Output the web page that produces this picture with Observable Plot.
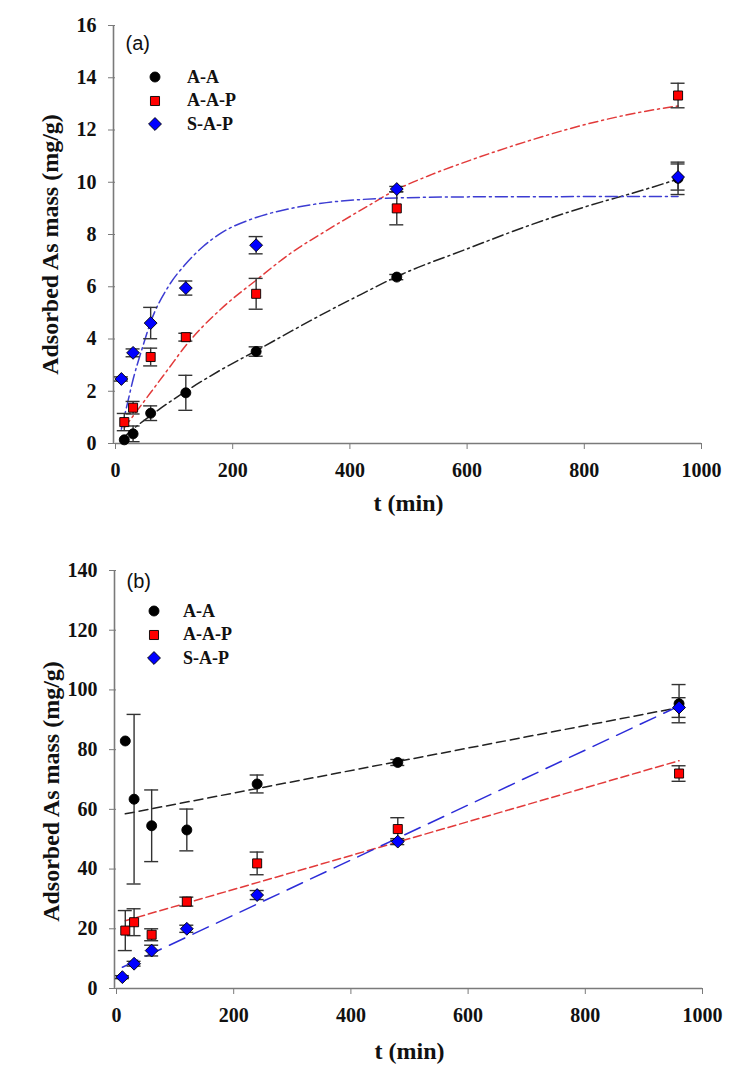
<!DOCTYPE html>
<html><head><meta charset="utf-8">
<script src="https://cdn.jsdelivr.net/npm/d3@7"></script>
<script src="https://cdn.jsdelivr.net/npm/@observablehq/plot@0.6"></script>
<style>
body{margin:0;background:#fff;}
#wrap{position:relative;width:754px;height:1079px;overflow:hidden;}
#wrap svg{display:block;}
.legend{position:absolute;font-family:"Liberation Serif","Times New Roman",serif;font-weight:bold;font-size:18px;color:#111;}
.legend .row{position:absolute;left:0;height:24px;display:flex;align-items:center;white-space:nowrap;}
</style></head><body><div id="wrap"></div>
<script>
// ---------- data ----------
const seriesNames = ["A-A", "A-A-P", "S-A-P"];
const seriesColors = ["#000000", "#ff0000", "#0000ff"];
const xTicks = [0, 200, 400, 600, 800, 1000];
const yTicksA = [0, 2, 4, 6, 8, 10, 12, 14, 16];
const yTicksB = [0, 20, 40, 60, 80, 100, 120, 140];

const tAA = [15, 30, 60, 120, 240, 480, 960];
const tAAP = [15, 30, 60, 120, 240, 480, 960];
const tSAP = [10, 30, 60, 120, 240, 480, 960];

// panel (a) measured values and error bars
const qA_AA = [0.14, 0.37, 1.16, 1.94, 3.52, 6.37, 10.15];
const eA_AA = [0.0, 0.3, 0.28, 0.67, 0.18, 0.1, 0.62];
const qA_AAP = [0.82, 1.37, 3.31, 4.07, 5.73, 9.0, 13.32];
const eA_AAP = [0.33, 0.24, 0.34, 0.15, 0.59, 0.63, 0.47];
const qA_SAP = [2.47, 3.47, 4.61, 5.95, 7.59, 9.74, 10.2];
const eA_SAP = [0.08, 0.15, 0.6, 0.27, 0.33, 0.1, 0.5];

// panel (a) fitted curves
const fitTA_AA = [15, 30, 60, 120, 180, 240, 300, 360, 420, 480, 600, 700, 800, 900, 960];
const fitQA_AA = [0.25, 0.55, 1.07, 2.0, 2.82, 3.55, 4.3, 5.03, 5.72, 6.39, 7.45, 8.3, 9.05, 9.7, 10.12];
const fitTA_AAP = [15, 30, 60, 90, 120, 180, 240, 300, 360, 420, 480, 540, 600, 700, 800, 900, 960];
const fitQA_AAP = [0.6, 1.05, 1.95, 2.85, 3.75, 5.15, 6.25, 7.3, 8.15, 8.95, 9.72, 10.3, 10.8, 11.55, 12.2, 12.7, 12.92];
const fitTA_SAP = [10, 20, 30, 45, 60, 90, 120, 150, 180, 240, 300, 360, 420, 480, 600, 800, 960];
const fitQA_SAP = [0.55, 1.5, 2.45, 3.6, 4.65, 6.0, 6.88, 7.55, 8.05, 8.65, 9.0, 9.22, 9.34, 9.4, 9.44, 9.45, 9.45];

// panel (b) measured values and error bars
const qB_AA = [82.9, 63.4, 54.5, 53.1, 68.5, 75.7, 95.4];
const eB_AA = [0, 28.4, 12, 7, 3, 1, 6.4];
const qB_AAP = [19.4, 22.2, 18.0, 29.1, 41.9, 53.4, 72.0];
const eB_AAP = [6.7, 4.5, 2, 1.5, 3.8, 3.8, 2.6];
const qB_SAP = [3.8, 8.3, 12.7, 20.0, 31.3, 49.2, 94.1];
const eB_SAP = [0.5, 0.8, 1.8, 1.2, 1.5, 1, 3.3];

// panel (b) linear fits (end points)
const fitTB_AA = [15, 960];
const fitQB_AA = [58.5, 94.1];
const fitTB_AAP = [15, 960];
const fitQB_AAP = [22.7, 76.3];
const fitTB_SAP = [10, 960];
const fitQB_SAP = [7.1, 94.6];

// ---------- helpers ----------
const SERIF = "'Liberation Serif', 'Times New Roman', serif";
const SANS = "'Liberation Sans', Arial, sans-serif";
const AXIS = "#7a7a7a";
const ERR = "#333";
function rows(series, t, q, e) {
  return t.map((ti, i) => ({series, t: ti, q: q[i], lo: q[i] - e[i], hi: q[i] + e[i], e: e[i]}));
}
function fit(t, q) { return t.map((ti, i) => ({t: ti, q: q[i]})); }

const symSpec = [
  {name: seriesNames[0], symbol: "circle", r: 5, fill: seriesColors[0]},
  {name: seriesNames[1], symbol: "square", r: 5.1, fill: seriesColors[1]},
  {name: seriesNames[2], symbol: "diamond2", r: 5.8, fill: seriesColors[2]}
];

function panel(opts) {
  const pts = [
    rows(seriesNames[0], tAA, opts.q[0], opts.e[0]),
    rows(seriesNames[1], tAAP, opts.q[1], opts.e[1]),
    rows(seriesNames[2], tSAP, opts.q[2], opts.e[2])
  ];
  const all = pts.flat().filter(d => d.e > 0);
  const fitMarks = opts.fits.map((f, i) => Plot.line(f, {
    x: "t", y: "q", stroke: opts.fitColors[i], strokeWidth: 1.5,
    strokeDasharray: opts.dash[i], curve: opts.curve
  }));
  const dotMarks = pts.map((p, i) => Plot.dot(p, {
    x: "t", y: "q", symbol: () => symSpec[i].symbol, r: symSpec[i].r,
    fill: symSpec[i].fill, stroke: "#000", strokeWidth: 0.9
  }));
  return Plot.plot({
    width: 754, height: opts.height,
    marginLeft: opts.ml, marginRight: opts.mr, marginTop: opts.mt, marginBottom: opts.mb,
    x: {domain: [0, 1000]},
    y: {domain: opts.ydom},
    symbol: {type: "identity"},
    style: "font-family: 'Liberation Serif', 'Times New Roman', serif; font-size: 20px; font-weight: bold; background: white; color: #111; overflow: visible;",
    marks: [
      Plot.ruleY([0], {stroke: AXIS, strokeWidth: 1.6}),
      Plot.ruleX([0], {stroke: AXIS, strokeWidth: 1.6, dx: -2}),
      Plot.axisX({ticks: xTicks, tickFormat: d => String(d), tickSize: 6, tickPadding: 13, stroke: AXIS, label: null, fontSize: 20}),
      Plot.axisY({ticks: opts.yticks, tickFormat: d => String(d), tickSize: 7, tickPadding: 12, stroke: AXIS, label: null, fontSize: 20}),
      ...fitMarks,
      Plot.ruleX(all, {x: "t", y1: "lo", y2: "hi", stroke: ERR, strokeWidth: 1.4}),
      Plot.ruleY(all, {y: "hi", x1: "t", x2: "t", insetLeft: -7, insetRight: -7, stroke: ERR, strokeWidth: 1.4}),
      Plot.ruleY(all, {y: "lo", x1: "t", x2: "t", insetLeft: -7, insetRight: -7, stroke: ERR, strokeWidth: 1.4}),
      ...dotMarks,
      Plot.text([opts.tag], {text: d => d, frameAnchor: "top-left", dx: 10, dy: opts.tagDy, lineAnchor: "top", textAnchor: "start",
        fontSize: 20, fill: "#111", className: "tag"}),
      Plot.text(["Adsorbed As mass (mg/g)"], {text: d => d, frameAnchor: "left", textAnchor: "middle", dx: -65, dy: opts.ylabDy, rotate: -90,
        fontSize: 24, fill: "#111"}),
      Plot.text(["t (min)"], {text: d => d, frameAnchor: "bottom", textAnchor: "middle", dy: opts.xlabDy,
        fontSize: 24, fill: "#111"})
    ]
  });
}

const wrap = document.getElementById("wrap");

const plotA = panel({
  height: 520, ml: 115, mr: 53, mt: 25, mb: 77, ydom: [0, 16], yticks: yTicksA,
  q: [qA_AA, qA_AAP, qA_SAP], e: [eA_AA, eA_AAP, eA_SAP],
  fits: [fit(fitTA_AA, fitQA_AA), fit(fitTA_AAP, fitQA_AAP), fit(fitTA_SAP, fitQA_SAP)],
  fitColors: ["#222222", "#e23a3a", "#3c3cd2"],
  dash: ["11,4,2,4", "9,4,2,4", "12,4,2,4"],
  curve: "monotone-x", tag: "(a)", tagDy: 10, ylabDy: 10, xlabDy: 67
});
const plotB = panel({
  height: 559, ml: 116, mr: 52, mt: 50, mb: 91, ydom: [0, 140], yticks: yTicksB,
  q: [qB_AA, qB_AAP, qB_SAP], e: [eB_AA, eB_AAP, eB_SAP],
  fits: [fit(fitTB_AA, fitQB_AA), fit(fitTB_AAP, fitQB_AAP), fit(fitTB_SAP, fitQB_SAP)],
  fitColors: ["#222222", "#e23a3a", "#2c2cd8"],
  dash: ["9,5", "8,4", "17,9"],
  curve: "linear", tag: "(b)", tagDy: 3, ylabDy: 12, xlabDy: 70
});
wrap.appendChild(plotA);
wrap.appendChild(plotB);

// force fonts with inline styles on every svg text
wrap.querySelectorAll("svg text").forEach(t => {
  const isTag = t.textContent === "(a)" || t.textContent === "(b)";
  t.style.fontFamily = isTag ? "'Liberation Sans', Arial, sans-serif" : "'Liberation Serif', 'Times New Roman', serif";
  t.style.fontWeight = isTag ? "normal" : "bold";
  t.style.fill = "#111";
});

// ---------- legends ----------
function legend(left, top, textGap) {
  const box = document.createElement("div");
  box.className = "legend";
  box.style.left = left + "px";
  box.style.top = top + "px";
  symSpec.forEach((s, i) => {
    const row = document.createElement("div");
    row.className = "row";
    row.style.top = (i * 23.7) + "px";
    const svg = d3.create("svg").attr("width", 18).attr("height", 18).style("overflow", "visible");
    const symMap = {circle: d3.symbolCircle, square: d3.symbolSquare, diamond2: d3.symbolDiamond2};
    svg.append("path")
      .attr("transform", "translate(9,9)")
      .attr("d", d3.symbol(symMap[s.symbol], Math.PI * s.r * s.r)())
      .attr("fill", s.fill).attr("stroke", "#000").attr("stroke-width", 0.9);
    row.appendChild(svg.node());
    const span = document.createElement("span");
    span.textContent = s.name;
    span.style.marginLeft = textGap + "px";
    row.appendChild(span);
    box.appendChild(row);
  });
  wrap.appendChild(box);
}
legend(146, 65, 23);
legend(145, 599, 20);
</script>
</body></html>
